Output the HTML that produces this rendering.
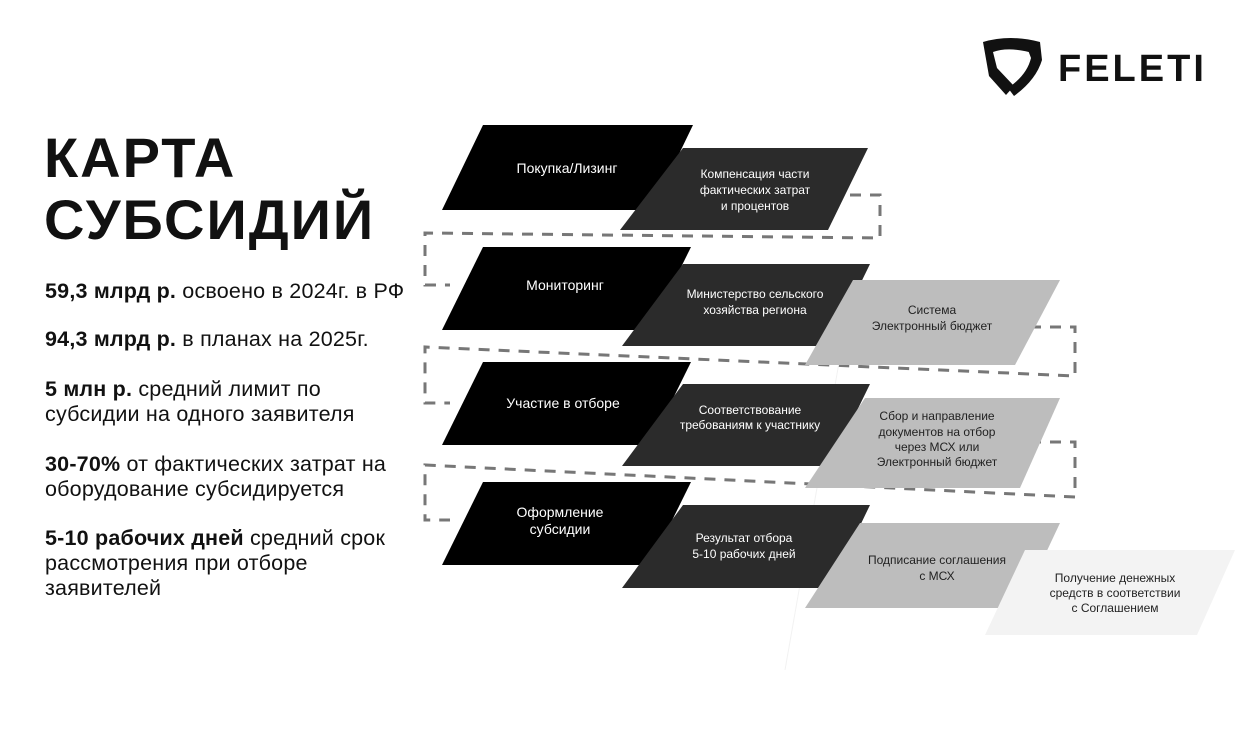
<!DOCTYPE html>
<html><head><meta charset="utf-8"><style>
body{margin:0;width:1240px;height:739px;background:#fff;overflow:hidden;position:relative;font-family:"Liberation Sans","DejaVu Sans",sans-serif;color:#111}
.t{position:absolute;left:44px;font-weight:bold;font-size:56px;line-height:62px;top:127px;letter-spacing:2px}
.s{position:absolute;left:45px;font-size:21.5px;line-height:25px;letter-spacing:0.2px}
.s b{font-weight:bold}
svg{position:absolute;left:0;top:0}
</style></head><body>
<svg width="1240" height="739" font-family="Liberation Sans, DejaVu Sans, sans-serif" text-anchor="middle">
<g fill="none" stroke="#777" stroke-width="3" stroke-dasharray="11 9">
<polyline points="830,195 880,195 880,238 425,233 425,285 450,285"/>
<polyline points="1010,327 1075,327 1075,376 425,347 425,403 450,403"/>
<polyline points="1010,442 1075,442 1075,497 425,465 425,520 450,520"/>
</g>
<line x1="785" y1="670" x2="850" y2="300" stroke="#f2f2f2" stroke-width="1"/>
<g fill="#000">
<polygon points="483,125 693,125 652,210 442,210"/>
<polygon points="483,247 691,247 650,330 442,330"/>
<polygon points="483,362 691,362 650,445 442,445"/>
<polygon points="483,482 691,482 650,565 442,565"/>
</g>
<g fill="#2b2b2b">
<polygon points="683,148 868,148 828,230 620,230"/>
<polygon points="683,264 870,264 830,346 622,346"/>
<polygon points="683,384 870,384 830,466 622,466"/>
<polygon points="683,505 870,505 830,588 622,588"/>
</g>
<g fill="#bdbdbd">
<polygon points="853,280 1060,280 1015,365 805,365"/>
<polygon points="865,398 1060,398 1020,488 805,488"/>
<polygon points="860,523 1060,523 1020,608 805,608"/>
</g>
<polygon points="1025,550 1235,550 1197,635 985,635" fill="#f3f3f3"/>
<g fill="#fff" font-size="14">
<text x="567" y="173">Покупка/Лизинг</text>
<text x="565" y="290">Мониторинг</text>
<text x="563" y="408">Участие в отборе</text>
<text x="560" y="517">Оформление</text><text x="560" y="534">субсидии</text>
</g>
<g fill="#fff" font-size="12">
<text x="755" y="178">Компенсация части</text><text x="755" y="194">фактических затрат</text><text x="755" y="210">и процентов</text>
<text x="755" y="298">Министерство сельского</text><text x="755" y="314">хозяйства региона</text>
<text x="750" y="414">Соответствование</text><text x="750" y="429">требованиям к участнику</text>
<text x="744" y="542">Результат отбора</text><text x="744" y="558">5-10 рабочих дней</text>
</g>
<g fill="#222" font-size="12">
<text x="932" y="314">Система</text><text x="932" y="330">Электронный бюджет</text>
<text x="937" y="420">Сбор и направление</text><text x="937" y="436">документов на отбор</text><text x="937" y="451">через МСХ или</text><text x="937" y="466">Электронный бюджет</text>
<text x="937" y="564">Подписание соглашения</text><text x="937" y="580">с МСХ</text>
<text x="1115" y="582">Получение денежных</text><text x="1115" y="597">средств в соответствии</text><text x="1115" y="612">с Соглашением</text>
</g>
<path d="M983,42 Q1010,34 1040,42 L1036,54 Q1010,46 993,52 L997,68 L1014,86 L1006,95 L989,76 Z" fill="#111"/>
<path d="M1040,42 L1042,60 Q1036,80 1014,96 L1008,88 Q1027,75 1031,58 L1028,50 Z" fill="#111"/>
<text x="1058" y="81" font-size="38" font-weight="bold" fill="#111" text-anchor="start" letter-spacing="3">FELETI</text>
</svg>
<div class="t">КАРТА<br>СУБСИДИЙ</div>
<div class="s" style="top:279px"><b>59,3 млрд р.</b> освоено в 2024г. в РФ</div>
<div class="s" style="top:327px"><b>94,3 млрд р.</b> в планах на 2025г.</div>
<div class="s" style="top:377px"><b>5 млн р.</b> средний лимит по<br>субсидии на одного заявителя</div>
<div class="s" style="top:452px"><b>30-70%</b> от фактических затрат на<br>оборудование субсидируется</div>
<div class="s" style="top:526px"><b>5-10 рабочих дней</b> средний срок<br>рассмотрения при отборе<br>заявителей</div>
</body></html>
